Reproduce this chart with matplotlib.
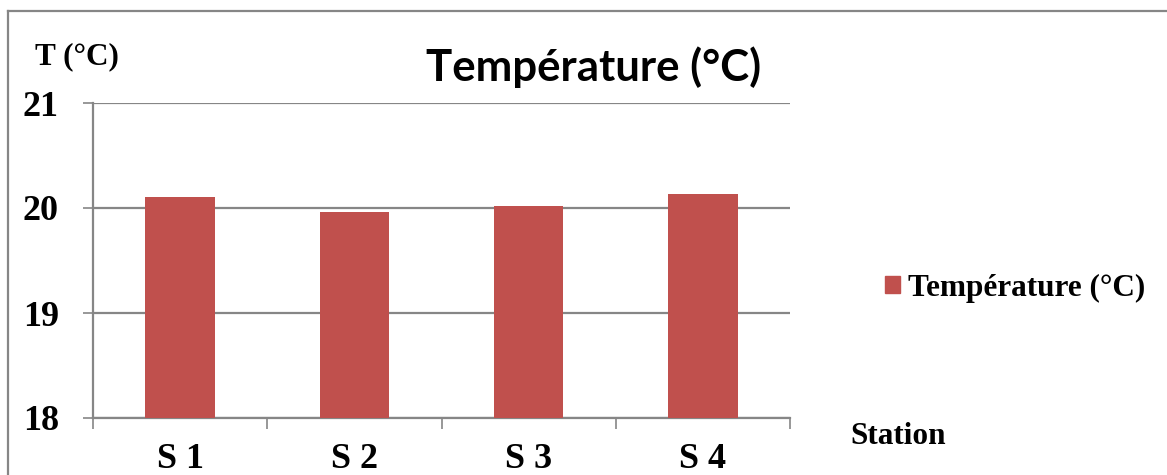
import matplotlib.pyplot as plt
from matplotlib.lines import Line2D
from matplotlib.patches import Patch

stations = ['S 1', 'S 2', 'S 3', 'S 4']
temperatures = [20.10, 19.96, 20.02, 20.13]
y_ticks = [18, 19, 20, 21]

bar_color = '#C0504D'
grid_color = '#868686'
serif = 'Liberation Serif'

W, H = 1167, 475
fig = plt.figure(figsize=(W / 100, H / 100), dpi=100)
ax = fig.add_axes([93 / W, 1 - 418 / H, (790 - 93) / W, (418 - 103) / H])

# bars centred in each category slot
centers = [i + 0.5 for i in range(len(stations))]
ax.bar(centers, [t - 18 for t in temperatures], bottom=18, width=0.4,
       color=bar_color, zorder=3, label='Température (°C)')

ax.set_xlim(0, len(stations))
ax.set_ylim(18, 21)
ax.set_yticks(y_ticks)
ax.set_yticklabels([str(v) for v in y_ticks], fontfamily=serif,
                   fontweight='bold', fontsize=26)
ax.yaxis.grid(True, color=grid_color, linewidth=1.6, zorder=0)
ax.tick_params(axis='y', length=7.5, width=1.2, color=grid_color, pad=17)

# boundary ticks on major, station names on minor
ax.set_xticks(range(len(stations) + 1))
ax.set_xticklabels([])
ax.tick_params(axis='x', which='major', length=8, width=1.2, color=grid_color)
ax.set_xticks(centers, minor=True)
ax.set_xticklabels(stations, minor=True, fontfamily=serif,
                   fontweight='bold', fontsize=26)
ax.tick_params(axis='x', which='minor', length=0, pad=18)

for side in ['top', 'right']:
    ax.spines[side].set_visible(False)
for side in ['left', 'bottom']:
    ax.spines[side].set_color(grid_color)
    ax.spines[side].set_linewidth(1.6)

fig.text(594 / W, 1 - 67 / H, 'Température (°C)', fontfamily='Lato',
         fontweight='bold', fontsize=31.5, ha='center', va='center')
fig.text(35 / W, 1 - 57 / H, 'T (°C)', fontfamily=serif, fontweight='bold',
         fontsize=22.5, ha='left', va='center')
fig.text(850 / W, 1 - 437 / H, 'Station', fontfamily=serif, fontweight='bold',
         fontsize=22.5, ha='left', va='center')

leg = fig.legend(handles=[Patch(color=bar_color, label='Température (°C)')],
                 loc='center left', bbox_to_anchor=(869 / W, 1 - 288 / H),
                 frameon=False, handlelength=0.5, handleheight=0.5,
                 handletextpad=0.25, borderpad=0,
                 prop={'family': serif, 'weight': 'bold', 'size': 22.5})

# outer chart frame (top and left edges)
fig.add_artist(Line2D([8 / W, 1], [1 - 11 / H, 1 - 11 / H],
                      color=grid_color, linewidth=1.6))
fig.add_artist(Line2D([8 / W, 8 / W], [0, 1 - 11 / H],
                      color=grid_color, linewidth=1.6))

fig.savefig('out.png', dpi=100)
